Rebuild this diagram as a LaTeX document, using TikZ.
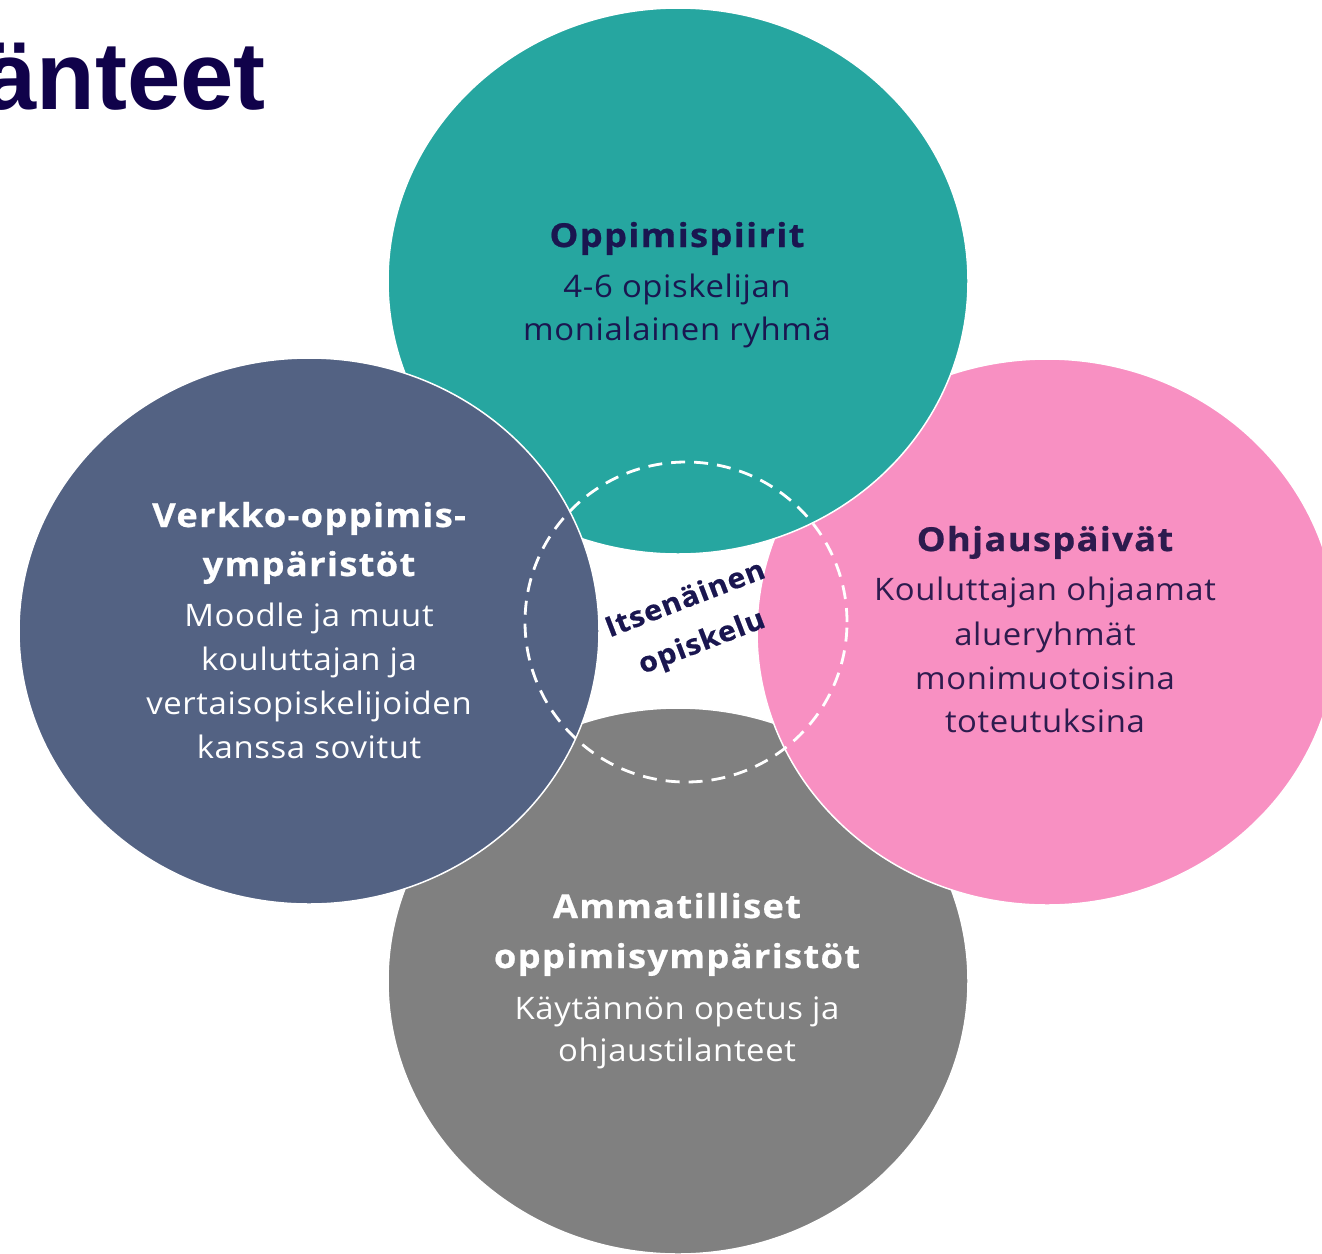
\documentclass[tikz,border=0pt]{standalone}
\usepackage{fontspec}
\setmainfont{Open Sans}
\newfontfamily\titlefont{Liberation Sans}
\newfontfamily\bodyf[LetterSpace=2, FakeStretch=1.06]{Open Sans}
\newfontfamily\headf[LetterSpace=4, FakeStretch=1.1, FakeBold=0.6]{Open Sans}
\newfontfamily\midf[LetterSpace=3, FakeStretch=1.08, FakeBold=0.6]{Open Sans}
\definecolor{tealc}{HTML}{26A6A0}
\definecolor{navyc}{HTML}{536283}
\definecolor{pinkc}{HTML}{F890C2}
\definecolor{grayc}{HTML}{808080}
\definecolor{inkc}{HTML}{1A1650}
\definecolor{inkp}{HTML}{2D1B4E}
\definecolor{titlec}{HTML}{10024A}
\begin{document}
\begin{tikzpicture}[x=1pt,y=-1pt,
  blob/.style={draw=white, line width=1.5pt},
  head/.style={anchor=base, inner sep=0pt, font=\headf\fontsize{33}{33}\selectfont\bfseries},
  body/.style={anchor=base, inner sep=0pt, font=\bodyf\fontsize{31}{31}\selectfont},
  ring/.style={draw=white, line width=2.8pt, dash pattern=on 14pt off 9pt}]
\fill[white] (0,0) rectangle (1322,1253);
\useasboundingbox (0,0) rectangle (1322,1253);
\begin{scope}
\clip (0,0) rectangle (1322,1253);
\path[blob, fill=grayc] (678,981) ellipse [x radius=290pt, y radius=273pt];
\path[blob, fill=pinkc] (1047,632) ellipse [x radius=290pt, y radius=273pt];
\path[blob, fill=tealc] (678,281) ellipse [x radius=290pt, y radius=273pt];
\path[blob, fill=navyc] (309,631) ellipse [x radius=290pt, y radius=273pt];
\path[ring] (686,622) ellipse [x radius=161pt, y radius=160pt];
% title
\node[anchor=base east, inner sep=0pt, text=titlec, font=\titlefont\fontsize{96}{96}\selectfont\bfseries] (title) at (266,109) {änteet};
% teal
\node[head, text=inkc] (t1) at (677,247) {Oppimispiirit};
\node[body, text=inkc] (t2) at (677,297) {4-6 opiskelijan};
\node[body, text=inkc] (t3) at (677,340) {monialainen ryhmä};
% navy
\node[head, text=white] (n1) at (309,527) {Verkko-oppimis-};
\node[head, text=white] (n2) at (309,576) {ympäristöt};
\node[body, text=white] (n3) at (309,626) {Moodle ja muut};
\node[body, text=white] (n4) at (309,670) {kouluttajan ja};
\node[body, text=white] (n5) at (309,714) {vertaisopiskelijoiden};
\node[body, text=white] (n6) at (309,758) {kanssa sovitut};
% pink
\node[head, text=inkp] (p1) at (1045,551) {Ohjauspäivät};
\node[body, text=inkp] (p2) at (1045,600) {Kouluttajan ohjaamat};
\node[body, text=inkp] (p3) at (1045,645) {alueryhmät};
\node[body, text=inkp] (p4) at (1045,689) {monimuotoisina};
\node[body, text=inkp] (p5) at (1045,732) {toteutuksina};
% gray
\node[head, text=white] (g1) at (677,918) {Ammatilliset};
\node[head, text=white] (g2) at (677,968) {oppimisympäristöt};
\node[body, text=white] (g3) at (677,1019) {Käytännön opetus ja};
\node[body, text=white] (g4) at (677,1061) {ohjaustilanteet};
% centre
\node[rotate=21, align=center, inner sep=0pt, text=inkc, font=\midf\fontsize{28}{46}\selectfont\bfseries] (c) at (694,622) {Itsenäinen\\opiskelu};
\end{scope}
\end{tikzpicture}
\end{document}
